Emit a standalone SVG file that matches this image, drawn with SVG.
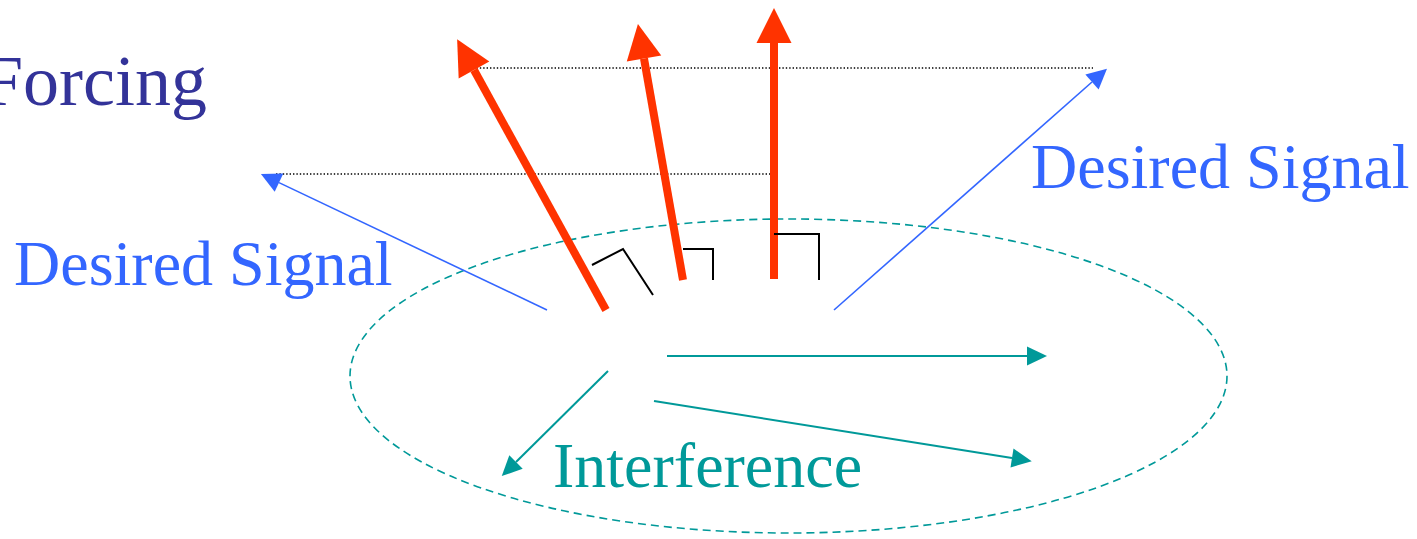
<svg xmlns="http://www.w3.org/2000/svg" width="1417" height="539" viewBox="0 0 1417 539">
<style>
.txt{font-family:"Liberation Serif","Times New Roman",serif;}
.red{stroke:#ff3300;stroke-width:8;fill:none;}
.blue{stroke:#3366ff;stroke-width:1.6;fill:none;}
.teal{stroke:#009999;stroke-width:2;fill:none;}
.dot{stroke:#000;stroke-width:1.4;stroke-dasharray:1.4 2;fill:none;}
.mark{stroke:#000;stroke-width:2;fill:none;}
</style>
<defs>
<marker id="hr" markerUnits="userSpaceOnUse" markerWidth="36" markerHeight="36" refX="0" refY="17.5" orient="auto" overflow="visible"><path d="M0,0 L35,17.5 L0,35 z" fill="#ff3300"/></marker>
<marker id="hb" markerUnits="userSpaceOnUse" markerWidth="21" markerHeight="21" refX="0" refY="10" orient="auto" overflow="visible"><path d="M0,0 L20,10 L0,20 z" fill="#3366ff"/></marker>
<marker id="ht" markerUnits="userSpaceOnUse" markerWidth="21" markerHeight="21" refX="0" refY="9.5" orient="auto" overflow="visible"><path d="M0,0 L20,9.5 L0,19 z" fill="#009999"/></marker>
</defs>
<rect width="1417" height="539" fill="#fff"/>
<g id="region">
<ellipse cx="788.5" cy="376" rx="438.5" ry="157" fill="none" stroke="#009999" stroke-width="1.6" stroke-dasharray="8 5"/>
</g>
<g id="guides">
<line class="dot" x1="473" y1="68" x2="1093" y2="68"/>
<line class="dot" x1="276" y1="174" x2="773" y2="174"/>
</g>
<g id="connectors">
<line class="red" x1="606" y1="310" x2="474" y2="70" marker-end="url(#hr)"/>
<line class="red" x1="683" y1="280" x2="644" y2="58.5" marker-end="url(#hr)"/>
<line class="red" x1="774" y1="279" x2="774" y2="43" marker-end="url(#hr)"/>
<polyline class="mark" points="592,265 623,249 653,295"/>
<polyline class="mark" points="683,249 713,249 713,280"/>
<polyline class="mark" points="774,234 819,234 819,280"/>
<line class="blue" x1="547" y1="310" x2="279" y2="182.6" marker-end="url(#hb)"/>
<line class="blue" x1="834" y1="310" x2="1092" y2="82" marker-end="url(#hb)"/>
<line class="teal" x1="667" y1="356" x2="1027" y2="356" marker-end="url(#ht)"/>
<line class="teal" x1="608" y1="371" x2="516" y2="462" marker-end="url(#ht)"/>
<line class="teal" x1="654" y1="401" x2="1012" y2="458" marker-end="url(#ht)"/>
</g>
<g id="label-forcing"><text class="txt" x="207" y="105" font-size="72" fill="#333399" text-anchor="end">Forcing</text></g>
<g id="label-desired-left"><text class="txt" x="14" y="285" font-size="64" fill="#3366ff">Desired Signal</text></g>
<g id="label-desired-right"><text class="txt" x="1031" y="188" font-size="64" fill="#3366ff">Desired Signal</text></g>
<g id="label-interference"><text class="txt" x="553" y="487" font-size="64" fill="#009999">Interference</text></g>
</svg>
